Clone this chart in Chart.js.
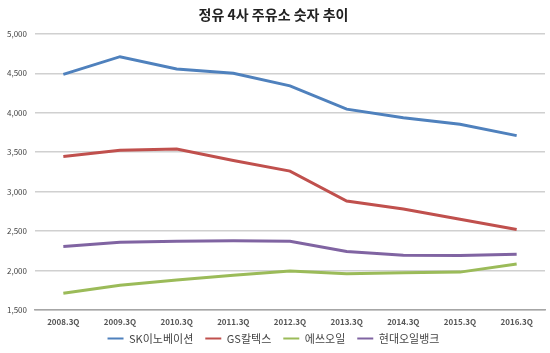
<!DOCTYPE html>
<html>
<head>
<meta charset="utf-8">
<script src="https://cdn.jsdelivr.net/npm/chart.js@4"></script>
<style>
  html, body { margin: 0; padding: 0; background: #fff; }
  #wrap { width: 550px; height: 353px; }
</style>
</head>
<body>
<div id="wrap"><canvas id="linechart"></canvas></div>
<script>
const quarters = ["2008.3Q", "2009.3Q", "2010.3Q", "2011.3Q", "2012.3Q", "2013.3Q", "2014.3Q", "2015.3Q", "2016.3Q"]
const skInnovation = [4485, 4710, 4555, 4500, 4340, 4045, 3935, 3855, 3710]
const gsCaltex = [3445, 3525, 3540, 3395, 3260, 2880, 2780, 2650, 2520]
const sOil = [1712, 1815, 1880, 1940, 1995, 1958, 1972, 1980, 2082]
const hyundaiOilbank = [2305, 2360, 2370, 2378, 2372, 2242, 2195, 2190, 2208]
const seriesNames = ["SK이노베이션", "GS칼텍스", "에쓰오일", "현대오일뱅크"]
const yTicks = [1500, 2000, 2500, 3000, 3500, 4000, 4500, 5000]

const colors = ["#4f81bd", "#c0504d", "#9bbb59", "#8064a2"]
const fontFamily = "'Noto Sans CJK KR', 'Noto Sans', sans-serif"

// legend keeps wide horizontal spacing, but takes little height and sits higher
const legendHeight = {
    id: 'legendHeight',
    afterInit(chart) {
        const legend = chart.legend
        const fit = legend.fit
        legend.fit = function () { fit.call(this); this.height = 14 }
    },
    afterLayout(chart) {
        chart.legend.top -= 18
    }
}

setupChart()

function setupChart(){
    const values = [skInnovation, gsCaltex, sOil, hyundaiOilbank]
    return new Chart(document.getElementById("linechart").getContext('2d'), {
    type: 'line',
    plugins: [legendHeight],
    data: {
        labels: quarters,
        datasets: seriesNames.map((name, i) => ({
            label: name,
            data: values[i],
            borderColor: colors[i],
            backgroundColor: colors[i],
            borderWidth: 3,
            pointRadius: 0,
            tension: 0
        }))
    },
    options: {
        responsive: true,
        maintainAspectRatio: false,
        animation: false,
        layout: { padding: { left: 2, right: 5, top: 0, bottom: 0 } },
        plugins: {
            title: {
                display: true,
                text: '정유 4사 주유소 숫자 추이',
                color: '#222',
                font: { family: fontFamily, size: 14, weight: 'bold' },
                padding: { top: 6, bottom: 11 }
            },
            legend: {
                position: 'bottom',
                labels: {
                    usePointStyle: true,
                    pointStyle: 'line',
                    pointStyleWidth: 16,
                    boxHeight: 3,
                    padding: 12,
                    color: '#444',
                    font: { family: fontFamily, size: 11 },
                    generateLabels: (chart) => Chart.defaults.plugins.legend.labels.generateLabels(chart)
                        .map(l => Object.assign(l, { lineWidth: 2 }))
                }
            },
            tooltip: { enabled: false }
        },
        scales: {
            x: {
                offset: true,
                afterFit: (scale) => { scale.height = 29 },
                grid: { display: false, drawTicks: false },
                border: { color: '#a6a6a6', width: 1.5 },
                ticks: {
                    color: '#555',
                    padding: 7,
                    maxRotation: 0,
                    font: { family: fontFamily, size: 8, weight: 'bold' }
                }
            },
            y: {
                min: 1500,
                max: 5000,
                afterBuildTicks: (scale) => { scale.ticks = yTicks.map(v => ({ value: v })) },
                afterFit: (scale) => { scale.width = 33 },
                grid: { color: '#d0d0d0', lineWidth: 1.5, drawTicks: false },
                border: { display: false },
                ticks: {
                    color: '#444',
                    padding: 8,
                    font: { family: fontFamily, size: 8 },
                    callback: (v) => v.toLocaleString('en-US')
                }
            }
        }
    }
});
}
</script>
</body>
</html>
